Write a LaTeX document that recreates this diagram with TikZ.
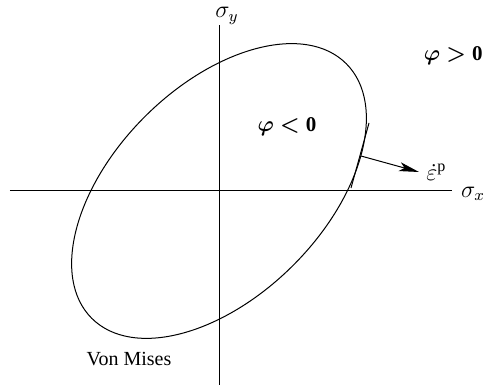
\documentclass[tikz,border=0pt]{standalone}
\usepackage{amsmath,amssymb}
\usepackage{fontspec}
\setmainfont{Liberation Serif}
\usepackage{tikz}
\usetikzlibrary{arrows.meta,positioning}

\begin{document}
\begin{tikzpicture}[x=0.5pt,y=0.5pt,>={Stealth[length=10pt,width=4.5pt,inset=2.5pt]},font=\normalsize]
\tikzset{axisline/.style={line width=0.5pt},
surf/.style={line width=0.5pt},
lbl/.style={inner sep=0.5pt},
mlbl/.style={inner sep=0.5pt,font=\fontsize{11.5pt}{14pt}\selectfont},
phil/.style={inner sep=0.5pt,font=\fontsize{10.5pt}{13pt}\selectfont}}
\useasboundingbox (-219,-198) rectangle (267,191);
% axes
\coordinate (xl) at (-209,0);
\coordinate (xr) at (233,0);
\coordinate (yb) at (0,-194);
\coordinate (yt) at (0,166);
\draw[axisline] (xl)--(xr);
\draw[axisline] (yb)--(yt);
\node[mlbl] (sx) at (254,-3) {$\sigma_x$};
\node[mlbl] (sy) at (8,175) {$\sigma_y$};
% yield surface
\draw[surf,rotate=45] (0,0) ellipse [x radius=180,y radius=105];
\node[phil] (neg) at (68,64) {$\boldsymbol{\varphi}\mathrel{\boldsymbol{<}}\mathbf{0}$};
\node[phil,anchor=east] (pos) at (265,135) {$\boldsymbol{\varphi}\mathrel{\boldsymbol{>}}\mathbf{0}$};
\node[lbl] (vm) at (-90,-168) {Von Mises};
% normal to the surface
\coordinate (touch) at (142,35);
\coordinate (tanA) at (150,68);
\coordinate (tanB) at (132,3);
\coordinate (tip) at (200,19);
\draw[surf] (tanA)--(tanB);
\draw[surf,->] (touch)--(tip);
\node[mlbl,right=3pt of tip] (eps) {$\dot{\varepsilon}^{\mathrm{p}}$};
\end{tikzpicture}
\end{document}
